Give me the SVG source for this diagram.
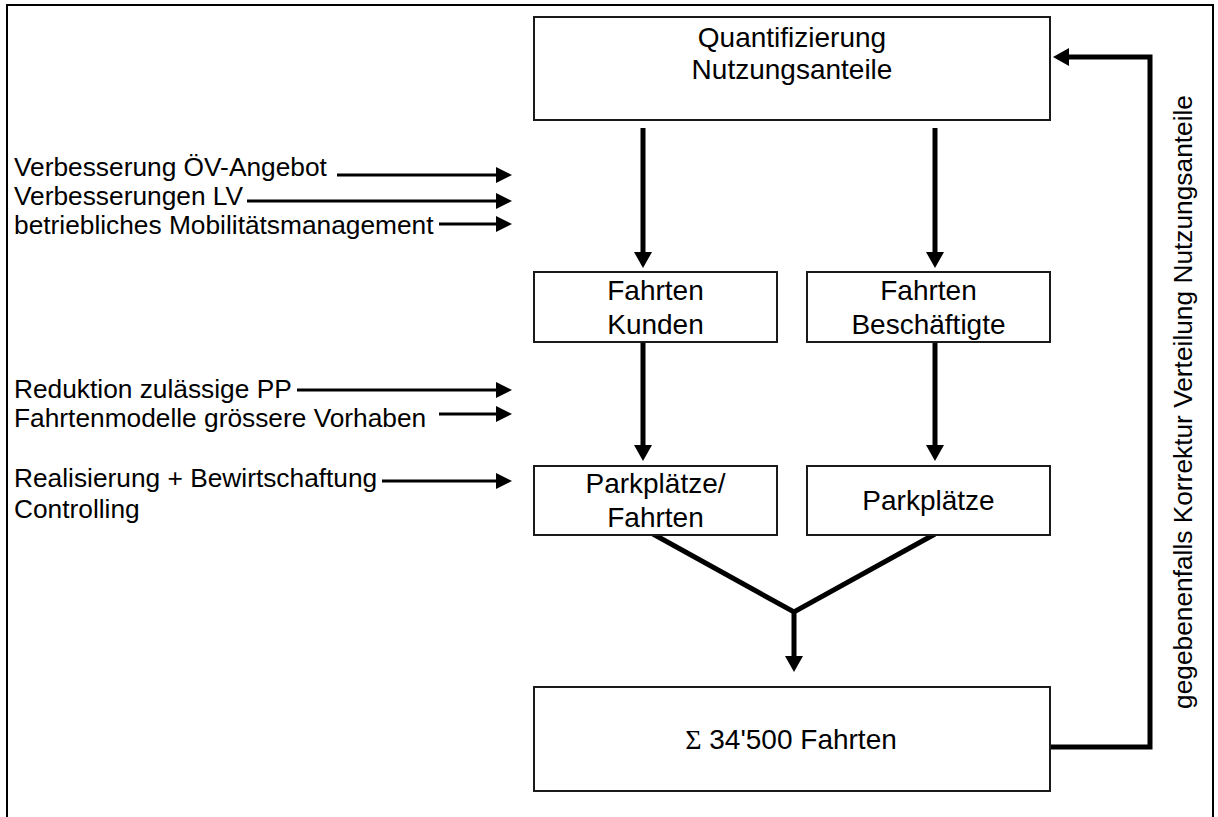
<svg xmlns="http://www.w3.org/2000/svg" width="1218" height="817" viewBox="0 0 1218 817">
<style>
.box{fill:#fff;stroke:#1a1a1a;stroke-width:2}
.t{font-family:"Liberation Sans",Arial,sans-serif;fill:#000}
.bt{font-size:28px;text-anchor:middle}
.lt{font-size:26.3px}
.thick{stroke:#000;stroke-width:5;fill:none;stroke-linejoin:miter}
.thin{stroke:#000;stroke-width:3;fill:none}
</style>
<defs>
<marker id="ah" markerUnits="userSpaceOnUse" markerWidth="16" markerHeight="18" refX="4" refY="9" orient="auto">
<path d="M0,0 L16,9 L0,18 z" fill="#000"/>
</marker>
<marker id="ahs" markerUnits="userSpaceOnUse" markerWidth="16" markerHeight="16" refX="4" refY="8" orient="auto">
<path d="M0,0 L16,8 L0,16 z" fill="#000"/>
</marker>
</defs>
<rect width="1218" height="817" fill="#fff"/>
<path d="M7,817 V5 H1213 V817" fill="none" stroke="#000" stroke-width="2"/>

<g id="connectors">
<path class="thick" d="M643,128 V256" marker-end="url(#ah)"/>
<path class="thick" d="M935,128 V256" marker-end="url(#ah)"/>
<path class="thick" d="M643,342 V449" marker-end="url(#ah)"/>
<path class="thick" d="M935,342 V449" marker-end="url(#ah)"/>
<path class="thick" d="M653,534 L794,612 L935,534"/>
<path class="thick" d="M794,610 V660" marker-end="url(#ah)"/>
<path class="thick" d="M1051,747 H1150 V57 H1065" marker-end="url(#ah)"/>
<path class="thin" d="M337,175 H500" marker-end="url(#ahs)"/>
<path class="thin" d="M247,201 H500" marker-end="url(#ahs)"/>
<path class="thin" d="M439,224 H500" marker-end="url(#ahs)"/>
<path class="thin" d="M297,390 H500" marker-end="url(#ahs)"/>
<path class="thin" d="M439,414 H500" marker-end="url(#ahs)"/>
<path class="thin" d="M382,481 H500" marker-end="url(#ahs)"/>
</g>

<g id="inputs" class="t lt">
<text x="14" y="176">Verbesserung ÖV-Angebot</text>
<text x="14" y="205">Verbesserungen LV</text>
<text x="14" y="234">betriebliches Mobilitätsmanagement</text>
<text x="14" y="398">Reduktion zulässige PP</text>
<text x="14" y="427">Fahrtenmodelle grössere Vorhaben</text>
<text x="14" y="487">Realisierung + Bewirtschaftung</text>
<text x="14" y="518">Controlling</text>
</g>

<g id="quantifizierung">
<rect class="box" x="534" y="17" width="516" height="103"/>
<text class="t bt" x="792" y="47">Quantifizierung</text>
<text class="t bt" x="792" y="79">Nutzungsanteile</text>
</g>
<g id="fahrten-kunden">
<rect class="box" x="534" y="272" width="243" height="70"/>
<text class="t bt" x="655.5" y="300">Fahrten</text>
<text class="t bt" x="655.5" y="334">Kunden</text>
</g>
<g id="fahrten-beschaeftigte">
<rect class="box" x="807" y="272" width="243" height="70"/>
<text class="t bt" x="928.5" y="300">Fahrten</text>
<text class="t bt" x="928.5" y="334">Beschäftigte</text>
</g>
<g id="parkplaetze-fahrten">
<rect class="box" x="534" y="466" width="243" height="69"/>
<text class="t bt" x="655.5" y="493">Parkplätze/</text>
<text class="t bt" x="655.5" y="527">Fahrten</text>
</g>
<g id="parkplaetze">
<rect class="box" x="807" y="466" width="243" height="69"/>
<text class="t bt" x="928.5" y="510">Parkplätze</text>
</g>
<g id="summe">
<rect class="box" x="534" y="687" width="516" height="104"/>
<text class="t bt" x="791" y="749"><tspan font-family="'Liberation Serif',serif">Σ</tspan> 34'500 Fahrten</text>
</g>
<g id="feedback-label">
<text class="t lt" text-anchor="middle" transform="translate(1192,402) rotate(-90)">gegebenenfalls Korrektur Verteilung Nutzungsanteile</text>
</g>
</svg>
